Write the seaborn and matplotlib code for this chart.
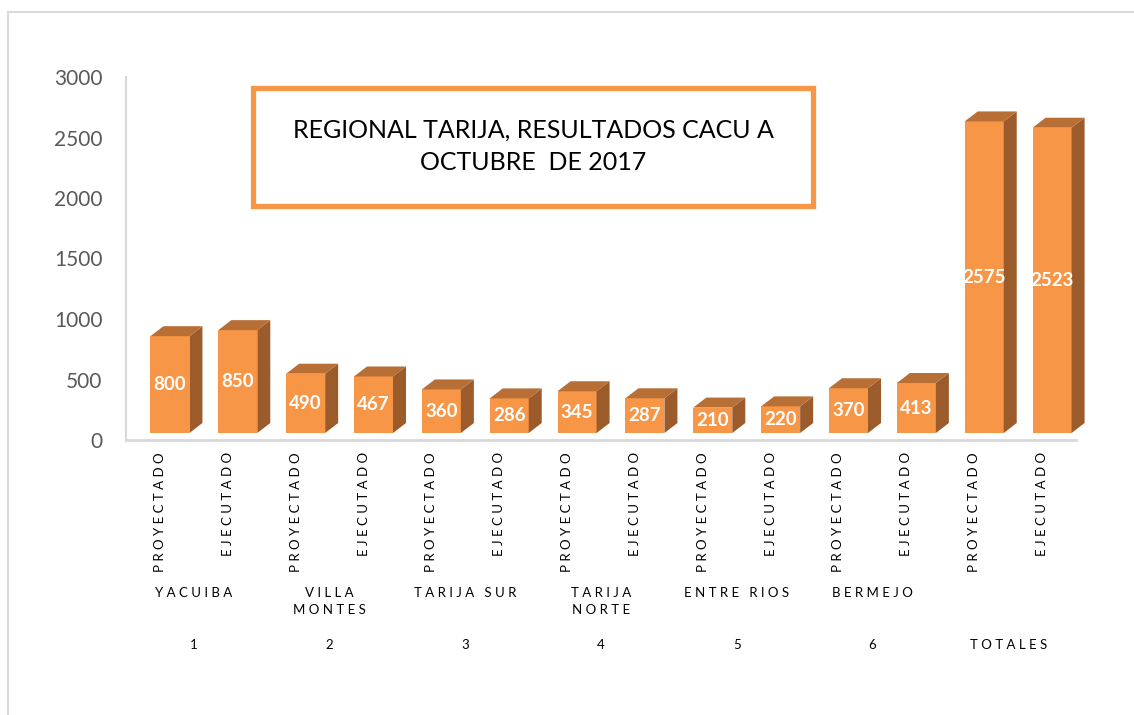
import numpy as np
import pandas as pd
import matplotlib
matplotlib.use("Agg")
import matplotlib.pyplot as plt
from matplotlib.patches import Polygon, Rectangle
import seaborn as sns

# ---- data ----
bar_labels = ["PROYECTADO", "EJECUTADO"] * 7
values = [800, 850, 490, 467, 360, 286, 345, 287, 210, 220, 370, 413, 2575, 2523]
group_names = ["YACUIBA", "VILLA\nMONTES", "TARIJA SUR", "TARIJA\nNORTE", "ENTRE RIOS", "BERMEJO", ""]
group_numbers = ["1", "2", "3", "4", "5", "6", "TOTALES"]
yticks = [0, 500, 1000, 1500, 2000, 2500, 3000]
title = "REGIONAL TARIJA, RESULTADOS CACU A\nOCTUBRE  DE 2017"

FRONT = "#F79646"
SIDE = "#9C5B2B"
TOP = "#B86F36"
FONT = ["Lato", "DejaVu Sans"]

sns.set_theme(style="white")
plt.rcParams["font.family"] = FONT

W, H = 1134, 715
fig = plt.figure(figsize=(W / 100, H / 100), dpi=100)
ax = fig.add_axes([126 / W, 1 - 440 / H, (1076 - 126) / W, (440 - 77) / H])

df = pd.DataFrame({"pos": [str(i) for i in range(len(values))], "valor": values})
sns.barplot(data=df, x="pos", y="valor", color=FRONT, saturation=1, width=0.575,
            edgecolor="none", linewidth=0, ax=ax, zorder=3)
ax.set_xlim(-0.5, len(values) - 0.5)
ax.set_ylim(0, 3000)

# 3D-look parameters (px -> data units)
px_x = (1076 - 126) / len(values)   # px per x unit
px_y = (440 - 77) / 3000            # px per y unit
ox, oy = 10 / px_x, 7 / px_y        # bar set back into the floor
dx, dy = 13 / px_x, 10 / px_y       # bar depth

for p, v in zip(ax.patches, values):
    x0 = p.get_x() + ox
    w = p.get_width()
    p.set_x(x0)
    p.set_y(oy)
    p.set_height(v)
    top = oy + v
    # side face
    ax.add_patch(Polygon([(x0 + w, oy), (x0 + w, top), (x0 + w + dx, top + dy), (x0 + w + dx, oy + dy)],
                         closed=True, facecolor=SIDE, edgecolor="none", zorder=3, clip_on=False))
    # top face
    ax.add_patch(Polygon([(x0, top), (x0 + w, top), (x0 + w + dx, top + dy), (x0 + dx, top + dy)],
                         closed=True, facecolor=TOP, edgecolor="none", zorder=3, clip_on=False))
    ax.text(x0 + w / 2, oy + v / 2, f"{v}", ha="center", va="center", color="white",
            fontsize=13.5, fontweight="bold", zorder=4)

# axes styling
for s in ["top", "right"]:
    ax.spines[s].set_visible(False)
ax.spines["left"].set_color("#D9D9D9")
ax.spines["left"].set_linewidth(1.5)
ax.spines["bottom"].set_color("#D9D9D9")
ax.spines["bottom"].set_linewidth(2)
ax.set_yticks(yticks)
ax.set_yticklabels([str(t) for t in yticks], fontsize=15, color="#595959")
ax.tick_params(axis="y", length=0, pad=17)
ax.set_xticks([])
ax.set_xlabel("")
ax.set_ylabel("")


def spaced(s):
    return "\n".join(" ".join(line) for line in s.split("\n"))


trans = ax.get_xaxis_transform()
for i, lab in enumerate(bar_labels):
    ax.text(i, -12 / (440 - 77), spaced(lab), rotation=90, ha="center", va="top",
            fontsize=9.5, color="#000000", transform=trans, clip_on=False)

for g, (name, num) in enumerate(zip(group_names, group_numbers)):
    xc = 2 * g + 0.5
    if name:
        ax.text(xc, -(595 - 440 - 8) / (440 - 77), spaced(name), ha="center", va="top",
                fontsize=9.5, color="#000000", transform=trans, clip_on=False, linespacing=1.5)
    ax.text(xc, -(645 - 440) / (440 - 77), spaced(num), ha="center", va="center",
            fontsize=9.5, color="#000000", transform=trans, clip_on=False)

# title box
fig.patches.append(Rectangle((253 / W, 1 - 206 / H), (813 - 253) / W, (206 - 88) / H,
                             transform=fig.transFigure, facecolor="white", edgecolor=FRONT,
                             linewidth=3.8, zorder=5))
fig.text(533 / W, 1 - 146 / H, title, ha="center", va="center", fontsize=18,
         color="#000000", linespacing=1.5, zorder=6)

# outer chart border
fig.patches.append(Rectangle((8 / W, -0.05), 1.2, 1 - 12 / H + 0.05, transform=fig.transFigure,
                             facecolor="none", edgecolor="#D9D9D9", linewidth=1.5, zorder=0))

fig.savefig("out.png", dpi=100, facecolor="white")
